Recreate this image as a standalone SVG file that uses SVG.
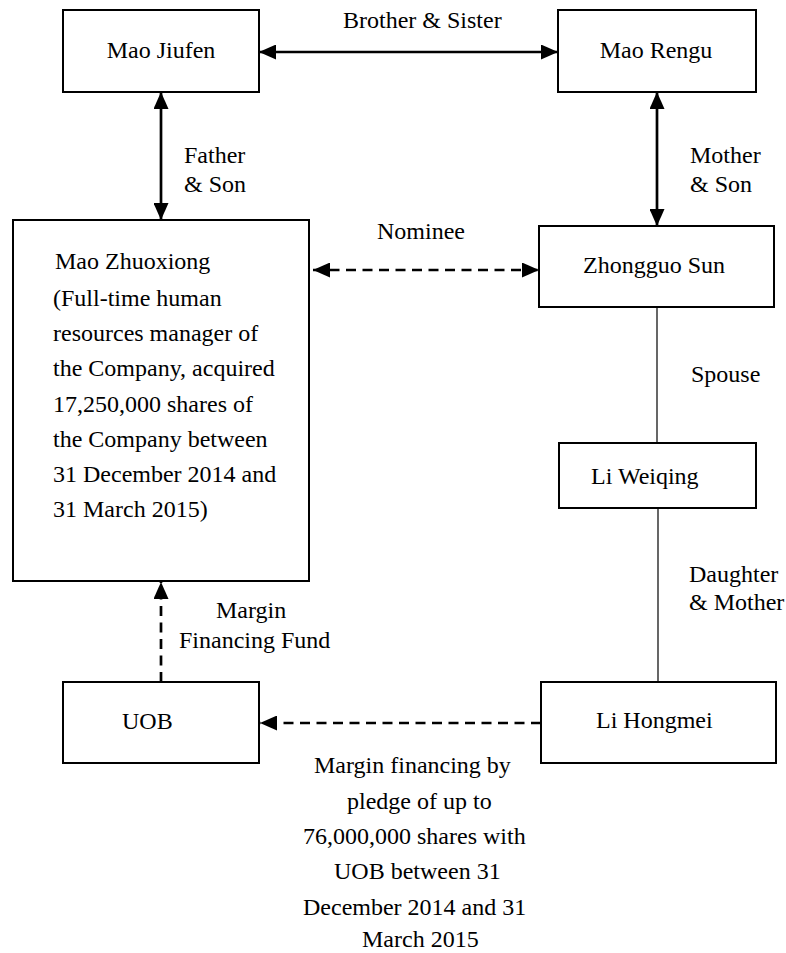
<svg xmlns="http://www.w3.org/2000/svg" width="786" height="953" viewBox="0 0 786 953">
<style>
text{font-family:"Liberation Serif","Times New Roman",serif;font-size:24px;fill:#000}
.box{fill:#fff;stroke:#000;stroke-width:2}
.arr{stroke:#000;stroke-width:2.7;fill:none}
.dash{stroke:#000;stroke-width:2.7;fill:none;stroke-dasharray:10 6.5}
.thin{stroke:#000;stroke-width:1.2;fill:none}
</style>
<defs>
<marker id="ah" viewBox="0 0 17 15" refX="17" refY="7.5" markerWidth="17" markerHeight="15" markerUnits="userSpaceOnUse" orient="auto-start-reverse">
<path d="M0,0 L17,7.5 L0,15 z" fill="#000"/>
</marker>
</defs>
<rect width="786" height="953" fill="#fff"/>
<g id="connectors">
<line class="arr" x1="259" y1="52" x2="558" y2="52" marker-start="url(#ah)" marker-end="url(#ah)"/>
<line class="arr" x1="161" y1="92" x2="161" y2="220" marker-start="url(#ah)" marker-end="url(#ah)"/>
<line class="arr" x1="657" y1="92" x2="657" y2="226" marker-start="url(#ah)" marker-end="url(#ah)"/>
<line class="dash" x1="313" y1="270" x2="539" y2="270" marker-start="url(#ah)" marker-end="url(#ah)"/>
<line class="thin" x1="657" y1="307" x2="657" y2="443"/>
<line class="thin" x1="658" y1="508" x2="658" y2="682"/>
<line class="dash" x1="541" y1="723" x2="260" y2="723" marker-end="url(#ah)"/>
<line class="dash" x1="161" y1="682" x2="161" y2="582" marker-end="url(#ah)"/>
<text x="343" y="28">Brother &amp; Sister</text>
<text x="184" y="163">Father</text>
<text x="184" y="192">&amp; Son</text>
<text x="690" y="163">Mother</text>
<text x="690" y="192">&amp; Son</text>
<text x="377" y="239">Nominee</text>
<text x="691" y="382">Spouse</text>
<text x="689" y="582">Daughter</text>
<text x="689" y="610">&amp; Mother</text>
<text x="216" y="618">Margin</text>
<text x="179" y="648">Financing Fund</text>
<text x="314" y="773">Margin financing by</text>
<text x="347" y="809">pledge of up to</text>
<text x="303" y="844">76,000,000 shares with</text>
<text x="334" y="879">UOB between 31</text>
<text x="303" y="915">December 2014 and 31</text>
<text x="362" y="947">March 2015</text>
</g>
<g id="mao-jiufen">
<rect class="box" x="63" y="10" width="196" height="82"/>
<text x="161" y="58" text-anchor="middle">Mao Jiufen</text>
</g>
<g id="mao-rengu">
<rect class="box" x="558" y="10" width="198" height="82"/>
<text x="656" y="58" text-anchor="middle">Mao Rengu</text>
</g>
<g id="mao-zhuoxiong">
<rect class="box" x="13" y="220" width="296" height="361"/>
<text x="55" y="269">Mao Zhuoxiong</text>
<text x="53" y="306">(Full-time human</text>
<text x="53" y="341">resources manager of</text>
<text x="53" y="376">the Company, acquired</text>
<text x="53" y="412">17,250,000 shares of</text>
<text x="53" y="447">the Company between</text>
<text x="53" y="482">31 December 2014 and</text>
<text x="53" y="517">31 March 2015)</text>
</g>
<g id="zhongguo-sun">
<rect class="box" x="539" y="226" width="235" height="81"/>
<text x="654" y="273" text-anchor="middle">Zhongguo Sun</text>
</g>
<g id="li-weiqing">
<rect class="box" x="559" y="443" width="197" height="65"/>
<text x="591" y="484">Li Weiqing</text>
</g>
<g id="li-hongmei">
<rect class="box" x="541" y="682" width="235" height="81"/>
<text x="596" y="728">Li Hongmei</text>
</g>
<g id="uob">
<rect class="box" x="63" y="682" width="196" height="81"/>
<text x="122" y="729">UOB</text>
</g>
</svg>
